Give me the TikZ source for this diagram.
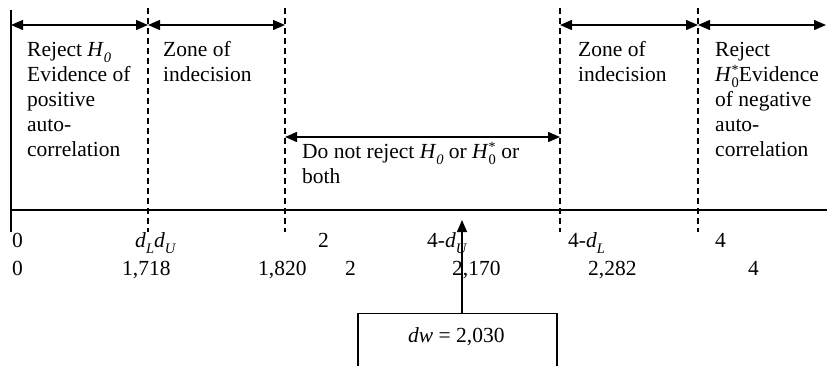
\documentclass[tikz,border=0pt]{standalone}
\usepackage{fontspec}
\setmainfont{Liberation Serif}
\usetikzlibrary{arrows.meta}
\newcommand\sbs[1]{\raisebox{-0.28em}{\fontsize{14.5}{14.5}\selectfont #1}}
\newcommand\Hz{\textit{H}\sbs{\textit{0}}}
\newcommand\Hs{\textit{H}\makebox[0pt][l]{\raisebox{0.28em}{\fontsize{14}{14}\selectfont *}}\sbs{0}}
\begin{document}
\begin{tikzpicture}[x=1pt,y=-1pt,
  txt/.style={font=\fontsize{21.5}{25}\selectfont, inner sep=0pt, align=left, anchor=base west},
  dashline/.style={line width=1.1pt, dash pattern=on 6pt off 4pt},
  solidline/.style={line width=1.3pt},
  span/.style={line width=1.4pt, {Triangle[length=12pt,width=10pt]}-{Triangle[length=12pt,width=10pt]}},
  up/.style={line width=1.4pt, -{Triangle[length=12pt,width=10pt]}},
  valbox/.style={draw, line width=1.1pt, minimum width=199pt, minimum height=70pt, anchor=north, inner sep=0pt}]
\useasboundingbox (0,0) rectangle (827,365);
\clip (0,0) rectangle (827,365);
% frame lines
\coordinate (L0t) at (11,10);  \coordinate (L0b) at (11,232);
\coordinate (D1t) at (148,8);  \coordinate (D1b) at (148,232);
\coordinate (D2t) at (285,8);  \coordinate (D2b) at (285,232);
\coordinate (D3t) at (560,8);  \coordinate (D3b) at (560,232);
\coordinate (D4t) at (698,8);  \coordinate (D4b) at (698,232);
\coordinate (ax0) at (11,210); \coordinate (ax1) at (827,210);
\coordinate (R) at (826,25);
\draw[solidline] (L0t) -- (L0b);
\draw[solidline] (ax0) -- (ax1);
\foreach \d in {D1,D2,D3,D4} \draw[dashline] (\d t) -- (\d b);
% span arrows
\draw[span] (L0t |- R) -- (D1t |- R);
\draw[span] (D1t |- R) -- (D2t |- R);
\draw[span] (D3t |- R) -- (D4t |- R);
\draw[span] (D4t |- R) -- (R);
\coordinate (M) at (0,137);
\draw[span] (D2t |- M) -- (D3t |- M);
% zone texts
\node[txt] (z1) at (27,56) {Reject \Hz};
\node[txt] (z1b) at (27,81) {Evidence of};
\node[txt] (z1c) at (27,106) {positive};
\node[txt] (z1d) at (27,131) {auto-};
\node[txt] (z1e) at (27,156) {correlation};
\node[txt] (z2) at (163,56) {Zone of};
\node[txt] (z2b) at (163,81) {indecision};
\node[txt] (z3) at (302,158) {Do not reject \Hz{} or \Hs{} or};
\node[txt] (z3b) at (302,183) {both};
\node[txt] (z4) at (578,56) {Zone of};
\node[txt] (z4b) at (578,81) {indecision};
\node[txt] (z5) at (715,56) {Reject};
\node[txt] (z5b) at (715,81) {\Hs{}Evidence};
\node[txt] (z5c) at (715,106) {of negative};
\node[txt] (z5d) at (715,131) {auto-};
\node[txt] (z5e) at (715,156) {correlation};
% axis labels
\node[txt] (l0) at (12,247) {0};
\node[txt] (l1) at (135,247) {\textit{d}\sbs{\textit{L}}\textit{d}\sbs{\textit{U}}};
\node[txt] (l2) at (318,247) {2};
\node[txt] (l3) at (427,247) {4-\textit{d}\sbs{\textit{U}}};
\node[txt] (l4) at (568,247) {4-\textit{d}\sbs{\textit{L}}};
\node[txt] (l5) at (715,247) {4};
\node[txt] (v0) at (12,275) {0};
\node[txt] (v1) at (122,275) {1,718};
\node[txt] (v2) at (258,275) {1,820};
\node[txt] (v3) at (345,275) {2};
\node[txt] (v4) at (452,275) {2,170};
\node[txt] (v5) at (588,275) {2,282};
\node[txt] (v6) at (748,275) {4};
% value box
\node[valbox] (box) at (457.5,313) {};
\node[txt] (dw) at (408,342) {\textit{dw} = 2,030};
\coordinate (tip) at (462,220);
\draw[up] (box.north -| tip) -- (tip);
\end{tikzpicture}
\end{document}
